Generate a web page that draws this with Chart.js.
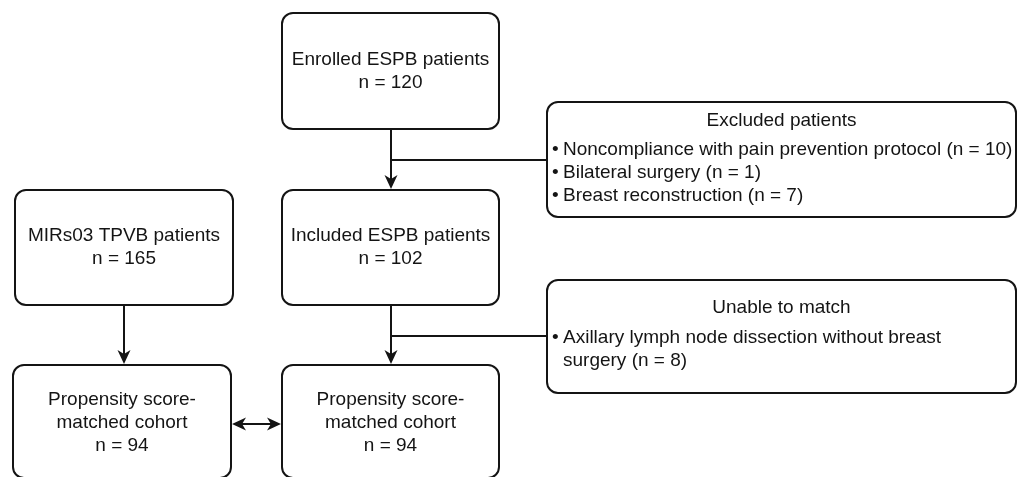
<!DOCTYPE html>
<html>
<head>
<meta charset="utf-8">
<script src="https://cdn.jsdelivr.net/npm/chart.js@4/dist/chart.umd.min.js"></script>
<style>
html,body{margin:0;padding:0;background:#fff;}
#wrap{width:1021px;height:477px;}
</style>
</head>
<body>
<div id="wrap"><canvas id="c" width="1021" height="477"></canvas></div>
<script>
// ---- data ----
const nodeTitles = [
  ["Enrolled ESPB patients"],
  ["MIRs03 TPVB patients"],
  ["Included ESPB patients"],
  ["Propensity score-", "matched cohort"],
  ["Propensity score-", "matched cohort"]
];
const nodeCounts = [120, 165, 102, 94, 94];

const excludedTitle = "Excluded patients";
const excludedReasons = ["Noncompliance with pain prevention protocol", "Bilateral surgery", "Breast reconstruction"];
const excludedCounts = [10, 1, 7];

const unmatchedTitle = "Unable to match";
const unmatchedReasons = ["Axillary lymph node dissection without breast", "surgery"];
const unmatchedCounts = [8];

// ---- layout (in a 1021 x 477 coordinate system mapped through the chart scales) ----
const layout = {
  nodes: [
    {x0:282, y0:13,  x1:499, y1:129, dy:0},
    {x0:15,  y0:190, x1:233, y1:305, dy:0},
    {x0:282, y0:190, x1:499, y1:305, dy:0},
    {x0:13,  y0:365, x1:231, y1:478, dy:1},
    {x0:282, y0:365, x1:499, y1:478, dy:1}
  ],
  excluded: {x0:547, y0:102, x1:1016, y1:217},
  unmatched: {x0:547, y0:280, x1:1016, y1:393}
};

const FONT = '19px "Liberation Sans", Arial, sans-serif';
const INK = '#141414';

const flowPlugin = {
  id: 'flow',
  afterDraw(chart) {
    const ctx = chart.ctx;
    const xs = chart.scales.x, ys = chart.scales.y;
    const X = v => xs.getPixelForValue(v);
    const Y = v => ys.getPixelForValue(v);

    function box(b) {
      const x0 = X(b.x0), y0 = Y(b.y0), x1 = X(b.x1), y1 = Y(b.y1);
      ctx.beginPath();
      ctx.roundRect(x0, y0, x1 - x0, y1 - y0, 11);
      ctx.lineWidth = 2;
      ctx.strokeStyle = INK;
      ctx.stroke();
    }
    function line(ax, ay, bx, by) {
      ctx.beginPath();
      ctx.moveTo(X(ax), Y(ay));
      ctx.lineTo(X(bx), Y(by));
      ctx.lineWidth = 2;
      ctx.strokeStyle = INK;
      ctx.stroke();
    }
    function head(tx, ty, dx, dy) {
      const px = X(tx), py = Y(ty);
      const L = 14, W = 6.5;
      const bx = px - dx * L, by = py - dy * L;
      ctx.beginPath();
      ctx.moveTo(px, py);
      ctx.lineTo(bx - dy * W, by + dx * W);
      ctx.lineTo(px - dx * L * 0.72, py - dy * L * 0.72);
      ctx.lineTo(bx + dy * W, by - dx * W);
      ctx.closePath();
      ctx.fillStyle = INK;
      ctx.fill();
    }
    function arrowDown(x, ya, yb) {
      line(x, ya, x, yb - 6);
      head(x, yb, 0, 1);
    }

    ctx.save();
    layout.nodes.forEach(box);
    box(layout.excluded);
    box(layout.unmatched);

    // connectors
    const cx = (layout.nodes[0].x0 + layout.nodes[0].x1) / 2 + 0.5;
    arrowDown(cx, layout.nodes[0].y1, layout.nodes[2].y0 - 1);
    line(cx, 160, layout.excluded.x0, 160);
    arrowDown(cx, layout.nodes[2].y1, layout.nodes[4].y0 - 1);
    line(cx, 336, layout.unmatched.x0, 336);
    const lx = (layout.nodes[1].x0 + layout.nodes[1].x1) / 2;
    arrowDown(lx, layout.nodes[1].y1, layout.nodes[3].y0 - 1);
    const ay = 424;
    line(layout.nodes[3].x1 + 6, ay, layout.nodes[4].x0 - 6, ay);
    head(layout.nodes[3].x1 + 1, ay, -1, 0);
    head(layout.nodes[4].x0 - 1, ay, 1, 0);

    // node texts
    ctx.font = FONT;
    ctx.fillStyle = INK;
    ctx.textAlign = 'center';
    ctx.textBaseline = 'middle';
    const lh = 23;
    layout.nodes.forEach((b, i) => {
      const lines = nodeTitles[i].concat(["n = " + nodeCounts[i]]);
      const mx = X((b.x0 + b.x1) / 2);
      const my = (Y(b.y0) + Y(b.y1)) / 2 + b.dy;
      const startY = my - (lines.length - 1) * lh / 2;
      lines.forEach((t, k) => ctx.fillText(t, mx, startY + k * lh));
    });

    // excluded box
    const e = layout.excluded;
    ctx.textAlign = 'center';
    ctx.fillText(excludedTitle, X((e.x0 + e.x1) / 2), Y(e.y0) + 19);
    ctx.textAlign = 'left';
    excludedReasons.forEach((r, i) => {
      const yy = Y(e.y0) + 48 + i * 23;
      ctx.fillText("\u2022", X(e.x0) + 5, yy);
      ctx.fillText(r + " (n = " + excludedCounts[i] + ")", X(e.x0) + 16, yy);
    });

    // unmatched box
    const u = layout.unmatched;
    ctx.textAlign = 'center';
    ctx.fillText(unmatchedTitle, X((u.x0 + u.x1) / 2), Y(u.y0) + 28);
    ctx.textAlign = 'left';
    ctx.fillText("\u2022", X(u.x0) + 5, Y(u.y0) + 58);
    ctx.fillText(unmatchedReasons[0], X(u.x0) + 16, Y(u.y0) + 58);
    ctx.fillText(unmatchedReasons[1] + " (n = " + unmatchedCounts[0] + ")", X(u.x0) + 16, Y(u.y0) + 81);
    ctx.restore();
  }
};

new Chart(document.getElementById('c'), {
  type: 'scatter',
  data: { datasets: [{ data: [], pointRadius: 0 }] },
  options: {
    responsive: false,
    animation: false,
    devicePixelRatio: 1,
    layout: { padding: 0 },
    plugins: { legend: { display: false }, tooltip: { enabled: false }, title: { display: false } },
    scales: {
      x: { type: 'linear', min: 0, max: 1021, display: false },
      y: { type: 'linear', min: 0, max: 477, reverse: true, display: false }
    }
  },
  plugins: [flowPlugin]
});
</script>
</body>
</html>
